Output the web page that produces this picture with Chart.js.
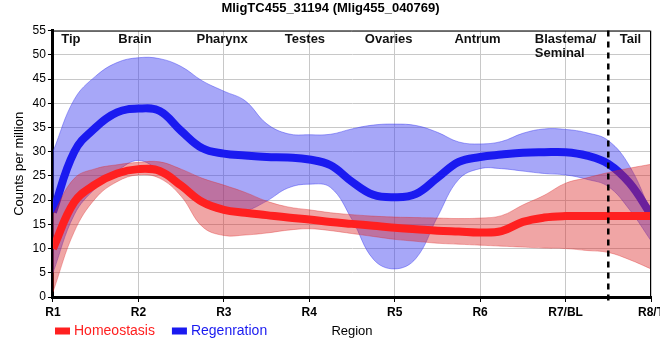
<!DOCTYPE html>
<html>
<head>
<meta charset="utf-8">
<script src="https://cdn.jsdelivr.net/npm/chart.js@4.4.1/dist/chart.umd.min.js"></script>
<style>
  html, body { margin: 0; padding: 0; background: #fff; }
</style>
</head>
<body>
<canvas id="chart" width="660" height="360"></canvas>
<script>
const regionTicks = ['R1', 'R2', 'R3', 'R4', 'R5', 'R6', 'R7/BL', 'R8/T'];
const tissueNames = ['Tip', 'Brain', 'Pharynx', 'Testes', 'Ovaries', 'Antrum', 'Blastema/\nSeminal', 'Tail'];
const tissuePos = [0.21, 0.96, 1.98, 2.95, 3.93, 4.97, 6.0, 6.76];
const tailStart = 6.5;

// sample positions along the body (R1 = 0 ... R8/T = 7)
const samplePos = [0, 0.25, 0.5, 0.75, 1, 1.25, 1.5, 1.75, 2, 2.25, 2.5, 2.75, 3, 3.25, 3.5, 3.75,
  4, 4.25, 4.5, 4.75, 5, 5.25, 5.5, 5.75, 6, 6.25, 6.5, 6.75, 7];

const homeoMean = [10, 19.6, 23.3, 25.5, 26.4, 26, 23, 19.6, 18, 17.4, 16.9, 16.4, 16.0, 15.5, 15.1, 14.7,
  14.3, 14.0, 13.7, 13.5, 13.3, 13.6, 15.5, 16.4, 16.7, 16.7, 16.7, 16.7, 16.7];
const homeoHigh = [17, 24.5, 26.5, 27.3, 27.8, 27.9, 26.4, 24.5, 23.1, 21.6, 19.8, 18.6, 18.0, 17.4, 17, 16.7,
  16.5, 16.4, 16.3, 16.2, 16.3, 16.8, 19, 21, 23.5, 24.6, 25.7, 26.6, 27.4];
const homeoLow = [1, 13.5, 20.4, 23.8, 25.2, 24.5, 20.8, 14.5, 12.7, 12.8, 13.2, 13.8, 14.1, 13.7, 13.1, 12.5,
  11.9, 11.5, 11.1, 10.9, 10.7, 10.5, 10.3, 10.1, 10.0, 9.6, 9.2, 7.7, 5.8];

const regenMean = [17.5, 30, 35, 38.1, 38.9, 38.4, 34.3, 30.7, 29.6, 29.2, 28.9, 28.8, 28.4, 27.2, 23.8, 21.1,
  20.6, 21.3, 24.6, 27.9, 28.9, 29.4, 29.8, 29.9, 29.9, 29.2, 27.5, 23.5, 17];
const regenHigh = [30, 40.8, 45.6, 48.4, 49.4, 49.2, 47.6, 44.6, 42.5, 40.5, 35.8, 33.7, 33.5, 33.6, 34.7, 35.5,
  35.7, 35.4, 34, 32, 31.6, 32.1, 33.8, 34.7, 34.6, 33.9, 32.3, 27, 17.5];
const regenLow = [5, 17, 22.5, 26, 28.2, 26, 23, 19.5, 18, 17.8, 19.8, 22.5, 23.3, 22.6, 16, 7.8,
  5.8, 8, 16.5, 24.3, 26.5, 26.5, 26, 25.5, 25.2, 24.3, 22.8, 18, 11.6];

const homeoColor = '#ff2020';
const regenColor = '#1a1af0';

function pts(values) {
  return samplePos.map((x, i) => ({ x: x, y: values[i] }));
}

Chart.defaults.font.family = "'Liberation Sans', Arial, sans-serif";
Chart.defaults.color = '#000';

const extras = {
  id: 'extras',
  afterDatasetsDraw(chart) {
    const ctx = chart.ctx;
    const a = chart.chartArea;
    const x = chart.scales.x;
    ctx.save();
    // tail boundary
    ctx.strokeStyle = '#000';
    ctx.lineWidth = 2.5;
    ctx.setLineDash([6, 5]);
    ctx.beginPath();
    ctx.moveTo(x.getPixelForValue(tailStart), a.top);
    ctx.lineTo(x.getPixelForValue(tailStart), a.bottom + 5);
    ctx.stroke();
    ctx.setLineDash([]);
    // top / right frame
    ctx.lineWidth = 1;
    ctx.beginPath();
    ctx.moveTo(a.left, a.top + 0.5);
    ctx.lineTo(a.right - 0.5, a.top + 0.5);
    ctx.lineTo(a.right - 0.5, a.bottom);
    ctx.stroke();
    // tissue names
    ctx.font = "bold 13px 'Liberation Sans', Arial, sans-serif";
    ctx.fillStyle = '#111';
    ctx.textAlign = 'left';
    ctx.textBaseline = 'middle';
    tissueNames.forEach((name, i) => {
      const lines = name.split('\n');
      const w = Math.max(...lines.map(l => ctx.measureText(l).width));
      const left = x.getPixelForValue(tissuePos[i]) - w / 2;
      lines.forEach((l, j) => ctx.fillText(l, left, a.top + 9 + j * 14));
    });
    ctx.restore();
  },
  afterDraw(chart) {
    const ctx = chart.ctx;
    ctx.save();
    ctx.font = "14px 'Liberation Sans', Arial, sans-serif";
    ctx.textBaseline = 'middle';
    ctx.textAlign = 'left';
    let cx = 55;
    const cy = 331;
    [chart.data.datasets[0], chart.data.datasets[1]].forEach(ds => {
      ctx.fillStyle = ds.borderColor;
      ctx.fillRect(cx, cy - 3.5, 15, 7);
      ctx.fillText(ds.label, cx + 19, cy);
      cx += 19 + ctx.measureText(ds.label).width + 17;
    });
    ctx.restore();
  }
};

const lineBase = { pointRadius: 0, tension: 0.4 };

new Chart(document.getElementById('chart'), {
  type: 'line',
  data: {
    datasets: [
      Object.assign({ label: 'Homeostasis', data: pts(homeoMean), borderColor: homeoColor, borderWidth: 8, fill: false, order: 1 }, lineBase),
      Object.assign({ label: 'Regenration', data: pts(regenMean), borderColor: regenColor, borderWidth: 8, fill: false, order: 4 }, lineBase),
      Object.assign({ label: 'homeo high', data: pts(homeoHigh), borderColor: 'rgba(220,40,40,0.35)', borderWidth: 1,
        fill: '+1', backgroundColor: 'rgba(220,40,40,0.42)', order: 3 }, lineBase),
      Object.assign({ label: 'homeo low', data: pts(homeoLow), borderColor: 'rgba(220,40,40,0.35)', borderWidth: 1,
        fill: false, order: 2 }, lineBase),
      Object.assign({ label: 'regen high', data: pts(regenHigh), borderColor: 'rgba(60,60,240,0.45)', borderWidth: 1,
        fill: '+1', backgroundColor: 'rgba(60,60,240,0.45)', order: 6 }, lineBase),
      Object.assign({ label: 'regen low', data: pts(regenLow), borderColor: 'rgba(60,60,240,0.45)', borderWidth: 1,
        fill: false, order: 5 }, lineBase)
    ]
  },
  options: {
    responsive: false,
    animation: false,
    layout: { padding: { left: 10, right: 9, top: 0, bottom: 21 } },
    scales: {
      x: {
        type: 'linear',
        min: 0,
        max: 7,
        afterFit(scale) { scale.paddingRight = 0; },
        ticks: {
          stepSize: 1,
          autoSkip: false,
          padding: 3,
          font: { size: 12, weight: 'bold' },
          callback: v => regionTicks[v]
        },
        grid: { color: '#c8c8c8', tickColor: '#000', tickLength: 5 },
        border: { color: '#000', width: 3 },
        title: { display: true, text: 'Region', font: { size: 13 }, padding: { top: 1, bottom: 0 } }
      },
      y: {
        min: 0,
        max: 55,
        ticks: { stepSize: 5, padding: 2, font: { size: 12 } },
        grid: { color: '#c8c8c8', tickColor: '#000', tickLength: 5 },
        border: { color: '#000', width: 3 },
        title: { display: true, text: 'Counts per million', font: { size: 13 }, padding: { top: 2, bottom: 3 } }
      }
    },
    plugins: {
      filler: { drawTime: 'beforeDatasetDraw' },
      legend: { display: false },
      tooltip: { enabled: false },
      title: {
        display: true,
        text: 'MligTC455_31194 (Mlig455_040769)',
        font: { size: 13, weight: 'bold' },
        padding: { top: 1, bottom: 14 }
      }
    }
  },
  plugins: [extras]
});
</script>
</body>
</html>
